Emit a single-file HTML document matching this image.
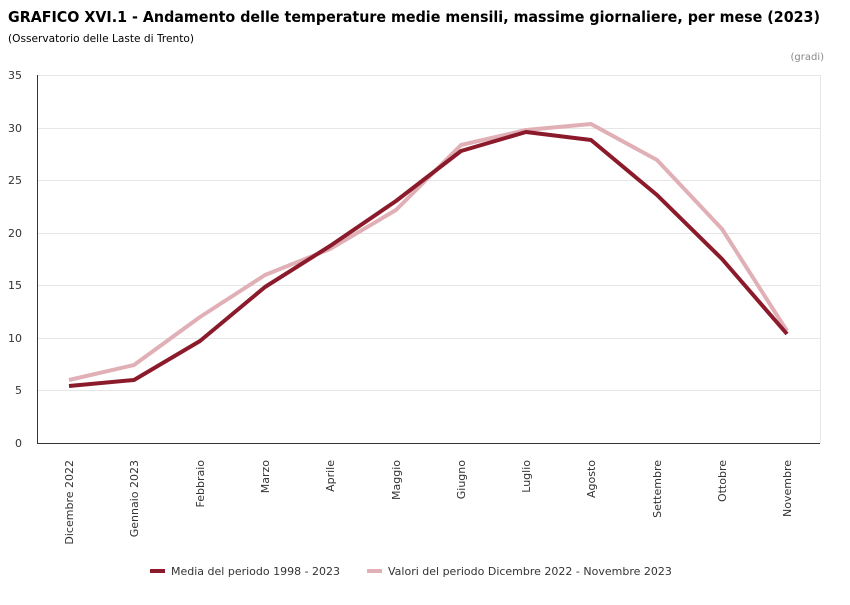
<!DOCTYPE html>
<html><head><meta charset="utf-8"><style>body{margin:0;background:#fff}</style></head>
<body>
<svg width="850" height="600" xmlns="http://www.w3.org/2000/svg" font-family="'DejaVu Sans','Liberation Sans',sans-serif">
<text x="8" y="22" font-size="15" font-weight="bold" textLength="812" lengthAdjust="spacingAndGlyphs">GRAFICO XVI.1 - Andamento delle temperature medie mensili, massime giornaliere, per mese (2023)</text>
<text x="8" y="42" font-size="11" textLength="186" lengthAdjust="spacingAndGlyphs">(Osservatorio delle Laste di Trento)</text>
<text x="824" y="60" font-size="10" fill="#888" text-anchor="end">(gradi)</text>
<g stroke="#e6e6e6" stroke-width="1">
<line x1="37" x2="820" y1="75.5" y2="75.5"/><line x1="37" x2="820" y1="128.5" y2="128.5"/><line x1="37" x2="820" y1="180.5" y2="180.5"/><line x1="37" x2="820" y1="233.5" y2="233.5"/><line x1="37" x2="820" y1="285.5" y2="285.5"/><line x1="37" x2="820" y1="338.5" y2="338.5"/><line x1="37" x2="820" y1="390.5" y2="390.5"/>
<line x1="820.5" x2="820.5" y1="75" y2="443"/>
</g>
<line x1="37.5" x2="37.5" y1="75" y2="443" stroke="#333"/>
<line x1="37" x2="820" y1="443.5" y2="443.5" stroke="#333"/>
<g font-size="11" fill="#333" text-anchor="end">
<text x="22" y="79">35</text><text x="22" y="132">30</text><text x="22" y="184">25</text><text x="22" y="237">20</text><text x="22" y="289">15</text><text x="22" y="342">10</text><text x="22" y="394">5</text><text x="22" y="447">0</text>
</g>
<g font-size="11" fill="#333" text-anchor="end">
<text transform="translate(73,460) rotate(-90)">Dicembre 2022</text>
<text transform="translate(138,460) rotate(-90)">Gennaio 2023</text>
<text transform="translate(204,460) rotate(-90)">Febbraio</text>
<text transform="translate(269,460) rotate(-90)">Marzo</text>
<text transform="translate(334,460) rotate(-90)">Aprile</text>
<text transform="translate(400,460) rotate(-90)">Maggio</text>
<text transform="translate(465,460) rotate(-90)">Giugno</text>
<text transform="translate(530,460) rotate(-90)">Luglio</text>
<text transform="translate(595,460) rotate(-90)">Agosto</text>
<text transform="translate(661,460) rotate(-90)">Settembre</text>
<text transform="translate(726,460) rotate(-90)">Ottobre</text>
<text transform="translate(791,460) rotate(-90)">Novembre</text>
</g>
<polyline fill="none" stroke="#e0b0b6" stroke-width="4" stroke-linejoin="round" points="69,380 134,365 200,317 265,275 330,249 396,210 461,145 526,130 591,124 657,160 722,229 787,331"/>
<polyline fill="none" stroke="#8b1a2b" stroke-width="4" stroke-linejoin="round" points="69,386 134,380 200,341 265,287 330,246 396,201 461,151 526,132 591,140 657,195 722,259 787,334"/>
<line x1="150" x2="165" y1="571" y2="571" stroke="#8b1a2b" stroke-width="4"/>
<text x="171" y="575" font-size="11" fill="#333">Media del periodo 1998 - 2023</text>
<line x1="367" x2="382" y1="571" y2="571" stroke="#e0b0b6" stroke-width="4"/>
<text x="388" y="575" font-size="11" fill="#333">Valori del periodo Dicembre 2022 - Novembre 2023</text>
</svg>
</body></html>
